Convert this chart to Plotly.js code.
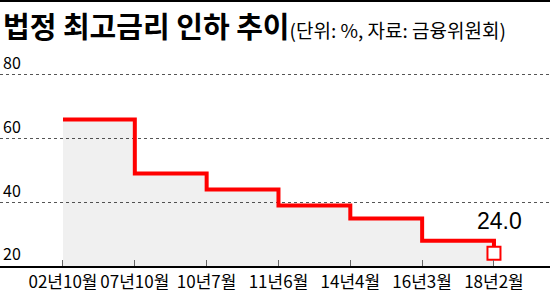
<!DOCTYPE html>
<html>
<head>
<meta charset="utf-8">
<script src="https://cdn.plot.ly/plotly-3.0.1.min.js"></script>
<style>
  html, body { margin: 0; padding: 0; background: #fff; }
  #chart { width: 550px; height: 293px; }
</style>
</head>
<body>
<div id="chart"></div>
<script>
const categories = ["02년10월", "07년10월", "10년7월", "11년6월", "14년4월", "16년3월", "18년2월"];
const rates = [66, 49, 44, 39, 34.9, 27.9, 24];
const yTicks = [20, 40, 60, 80];
const lastLabel = "24.0";

const xIdx = categories.map((c, i) => i);
const lastI = categories.length - 1;

const KFONT = "'Noto Sans CJK KR', 'Liberation Sans Narrow', sans-serif";
const NFONT = "'Liberation Sans Narrow', 'Noto Sans CJK KR', sans-serif";

const traces = [
  {
    x: xIdx, y: rates, type: "scatter", mode: "lines",
    line: { shape: "hv", color: "#ff0000", width: 4 },
    fill: "tozeroy", fillcolor: "rgba(0,0,0,0.06)",
    hoverinfo: "skip"
  },
  {
    x: [xIdx[lastI]], y: [rates[lastI]], type: "scatter", mode: "markers",
    marker: { symbol: "square", size: 13, color: "#ffffff", line: { color: "#ff0000", width: 2 } },
    hoverinfo: "skip"
  }
];

const layout = {
  width: 550, height: 293,
  margin: { l: 0, r: 0, t: 43, b: 27 },
  paper_bgcolor: "#ffffff", plot_bgcolor: "#ffffff",
  showlegend: false,
  title: {
    text: "법정 최고금리 인하 추이<span style=\"font-size:19px;font-weight:normal\">(단위: %, 자료: 금융위원회)</span>",
    font: { family: KFONT, size: 29, color: "#000", weight: "bold" },
    x: 0, xanchor: "left", xref: "container",
    y: 1 - 28 / 293, yanchor: "middle", yref: "container",
    pad: { l: 3 }
  },
  xaxis: {
    range: [-0.877, 6.78],
    tickmode: "array", tickvals: xIdx, ticktext: categories,
    ticks: "inside", ticklen: 6, tickcolor: "#666", tickwidth: 1,
    showline: true, linecolor: "#000", linewidth: 1.5,
    showgrid: false, zeroline: false,
    tickfont: { family: NFONT, size: 17, color: "#000" },
    fixedrange: true
  },
  yaxis: {
    range: [20, 90],
    tickmode: "array", tickvals: yTicks,
    ticklabelposition: "inside top",
    showgrid: true, gridcolor: "#555", griddash: "dot", gridwidth: 1,
    zeroline: false, showline: false, ticks: "",
    tickfont: { family: NFONT, size: 16, color: "#000" },
    fixedrange: true
  },
  annotations: [
    {
      x: xIdx[lastI], y: rates[lastI], xref: "x", yref: "y",
      text: lastLabel, showarrow: false,
      xanchor: "center", yanchor: "bottom", xshift: 6, yshift: 17,
      font: { family: "'Liberation Sans', Arial, sans-serif", size: 23, color: "#000" }
    }
  ],
  shapes: [
    { type: "rect", xref: "paper", yref: "paper", x0: 0, x1: 1, y0: 1 + 41 / 223, y1: 1 + 43 / 223,
      fillcolor: "#000", line: { width: 0 } }
  ]
};

Plotly.newPlot("chart", traces, layout, { staticPlot: true, displayModeBar: false });
</script>
</body>
</html>
